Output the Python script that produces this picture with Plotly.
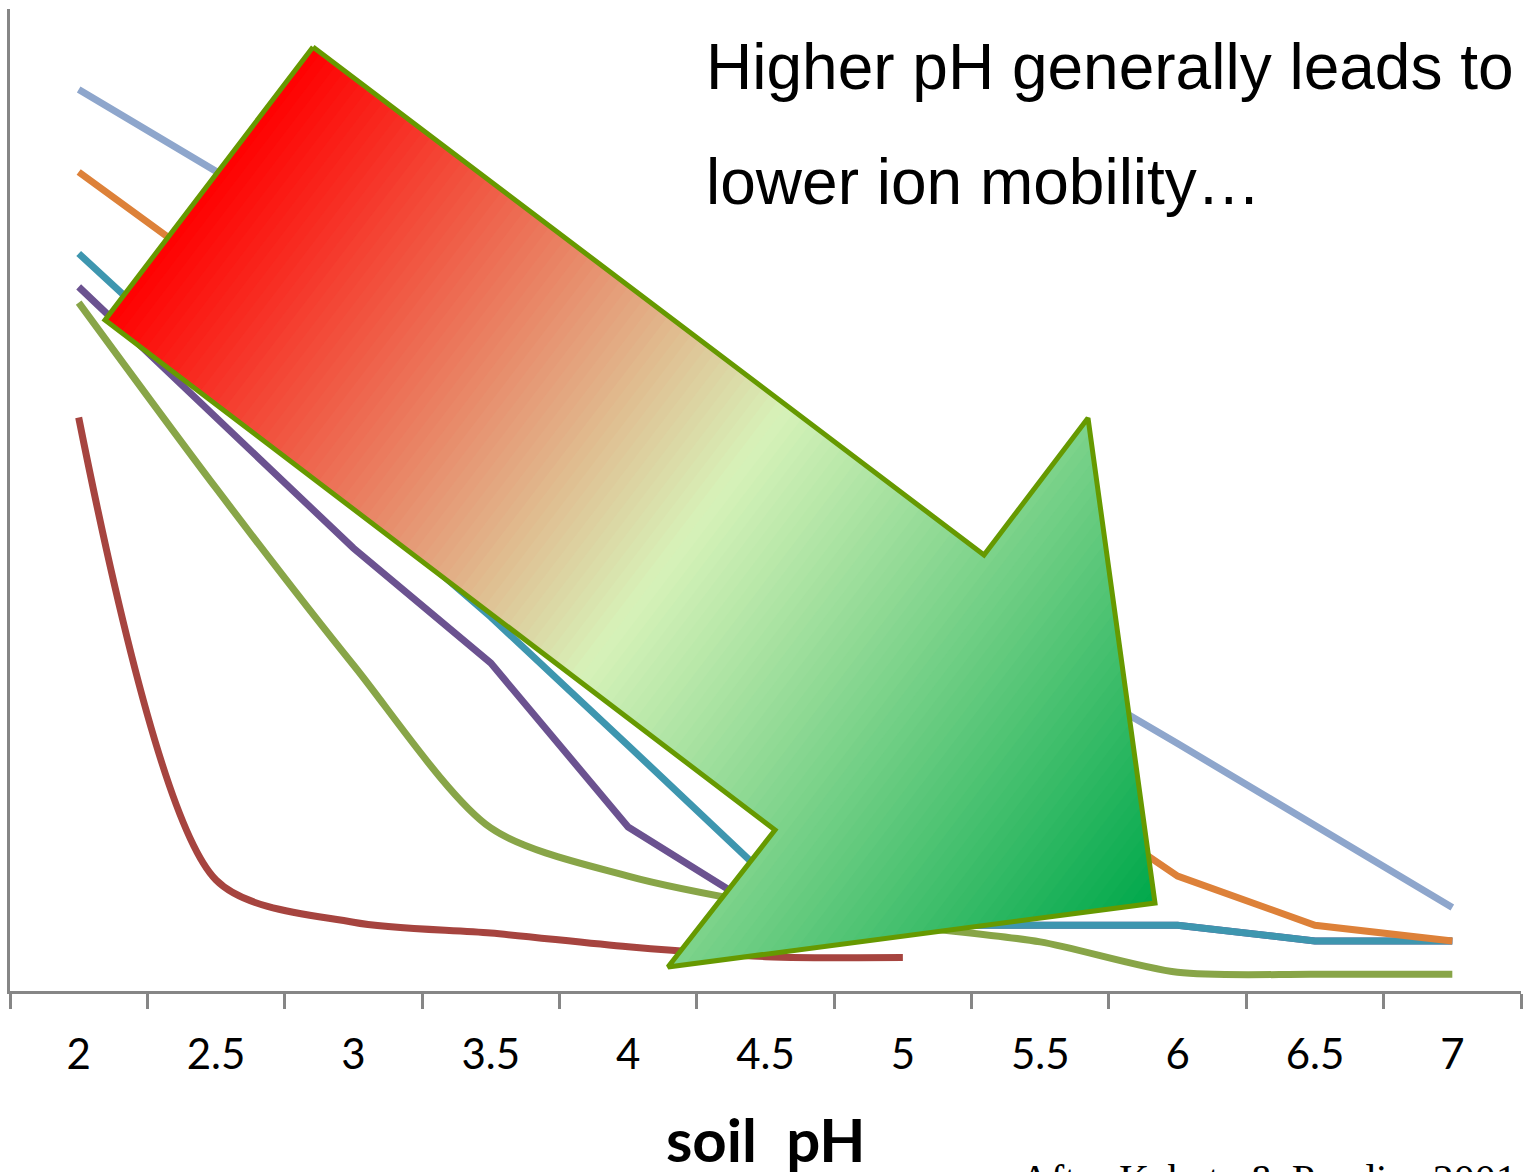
import plotly.graph_objects as go

# soil pH categories on the x axis
ph = ["2", "2.5", "3", "3.5", "4", "4.5", "5", "5.5", "6", "6.5", "7"]

# relative ion mobility for each element series
mob_blue = [91.8, 83.4, 75.1, 66.8, 58.5, 50.1, 41.8, 33.4, 25.2, 16.8, 8.5]
mob_orange = [83.4, 73.2, 64.3, 55.3, 47.0, 38.3, 29.6, 21.2, 11.7, 6.7, 5.1]
mob_teal = [75.1, 62.2, 50.2, 38.1, 25.0, 11.8, 6.7, 6.7, 6.7, 5.1, 5.1]
mob_purple = [71.7, 58.5, 45.1, 33.4, 16.7, 8.0, 6.7, 6.7, 6.7, 5.1, 5.1]
mob_green = [70.1, 51.2, 33.2, 16.6, 11.7, 8.8, 6.7, 5.0, 1.9, 1.7, 1.7]
mob_red = [58.4, 11.3, 7.0, 5.9, 4.5, 3.5, 3.4]

W, H = 1527, 1172
L, R, T, B = 10, 1521, 9, 991  # plot area in pixels

fig = go.Figure()

def add_line(y, color, smooth=False):
    fig.add_trace(go.Scatter(
        x=ph[:len(y)], y=y, mode="lines",
        line=dict(color=color, width=7, shape="spline" if smooth else "linear", smoothing=0.8),
        hoverinfo="skip", showlegend=False))

add_line(mob_blue, "#8EA6CC")
add_line(mob_red, "#A6443F", smooth=True)
add_line(mob_green, "#88A548", smooth=True)
add_line(mob_purple, "#6B5290")
add_line(mob_teal, "#3E96AF")
add_line(mob_orange, "#DD8139")

# ---- gradient arrow drawn on an overlay axis measured in plot pixels ----
arrow = [(313, 47), (105, 320), (775, 830), (668, 967), (1155, 903), (1088, 418), (984, 555)]
dx, dy = 946.0, 720.0
n = (dx * dx + dy * dy) ** 0.5
dx, dy = dx / n, dy / n

def proj(p):
    return p[0] * dx + p[1] * dy

def clip_half(pts, f):
    out = []
    for i in range(len(pts)):
        a, b = pts[i], pts[(i + 1) % len(pts)]
        fa, fb = f(a), f(b)
        if fa >= 0:
            out.append(a)
        if (fa >= 0) != (fb >= 0):
            t = fa / (fa - fb)
            out.append((a[0] + t * (b[0] - a[0]), a[1] + t * (b[1] - a[1])))
    return out

stops = [(0.0, (255, 0, 0)), (0.5, (215, 242, 185)), (1.0, (0, 168, 75))]

def grad(u):
    for (u0, c0), (u1, c1) in zip(stops, stops[1:]):
        if u <= u1:
            k = (u - u0) / (u1 - u0)
            return "rgb(%d,%d,%d)" % tuple(round(c0[j] + k * (c1[j] - c0[j])) for j in range(3))
    return "rgb(%d,%d,%d)" % stops[-1][1]

tmin = min(proj(p) for p in arrow)
tmax = max(proj(p) for p in arrow)
N = 120
step = (tmax - tmin) / N
for i in range(N):
    lo = tmin + i * step
    hi = lo + step * 1.6
    pts = clip_half(arrow, lambda p: proj(p) - lo)
    pts = clip_half(pts, lambda p: hi - proj(p))
    if len(pts) < 3:
        continue
    xs = [p[0] for p in pts] + [pts[0][0]]
    ys = [p[1] for p in pts] + [pts[0][1]]
    fig.add_trace(go.Scatter(
        x=xs, y=ys, xaxis="x2", yaxis="y2", mode="lines", fill="toself",
        fillcolor=grad((i + 0.5) / N), line=dict(width=0),
        hoverinfo="skip", showlegend=False))

fig.add_trace(go.Scatter(
    x=[p[0] for p in arrow] + [arrow[0][0]], y=[p[1] for p in arrow] + [arrow[0][1]],
    xaxis="x2", yaxis="y2", mode="lines", line=dict(color="#669900", width=5),
    hoverinfo="skip", showlegend=False))

def px(x):
    return (x - L) / (R - L)

def py(y):
    return (B - y) / (B - T)

annotations = [
    dict(text="Higher pH generally leads to", x=px(704), y=py(29), xanchor="left", yanchor="top",
         font=dict(family="Liberation Sans, Arial", size=64, color="black")),
    dict(text="lower ion mobility…", x=px(704), y=py(144), xanchor="left", yanchor="top",
         font=dict(family="Liberation Sans, Arial", size=64, color="black")),
    dict(text="<b>soil\u00a0 pH</b>", x=px(766), y=py(1101), xanchor="center", yanchor="top",
         font=dict(family="Lato", size=60, color="black")),
    dict(text="After Kabata &amp; Pendias 2001", x=px(1018), y=py(1155), xanchor="left", yanchor="top",
         font=dict(family="Liberation Serif, Times New Roman", size=42, color="black")),
]
for a in annotations:
    a.update(xref="paper", yref="paper", showarrow=False)

fig.update_layout(
    width=W, height=H,
    margin=dict(l=L, r=W - R, t=T, b=H - B, pad=0),
    paper_bgcolor="white", plot_bgcolor="white",
    annotations=annotations,
    xaxis=dict(type="category", range=[-0.5, 10.5], showgrid=False, zeroline=False, showline=True,
               linecolor="#868686", linewidth=2.5, ticks="outside", tickson="boundaries",
               ticklen=15, tickwidth=2.5, tickcolor="#868686",
               tickfont=dict(family="Lato", size=42, color="black"),
               ticklabelstandoff=25),
    yaxis=dict(range=[0, 100], showgrid=False, zeroline=False, showline=True,
               linecolor="#868686", linewidth=2.5, showticklabels=False, ticks=""),
    xaxis2=dict(range=[L, R], overlaying="x", visible=False),
    yaxis2=dict(range=[B, T], overlaying="y", visible=False),
)

fig.write_html("out.html")
